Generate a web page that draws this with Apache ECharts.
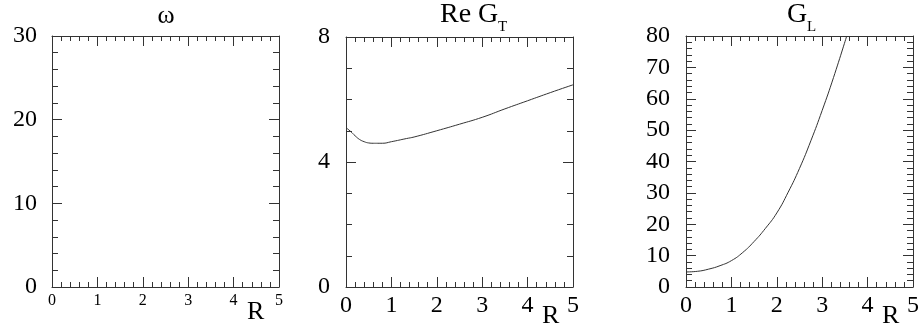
<!DOCTYPE html>
<html>
<head>
<meta charset="utf-8">
<script src="https://cdn.jsdelivr.net/npm/echarts@6/dist/echarts.min.js"></script>
<style>
  html, body { margin: 0; padding: 0; background: #fff; }
  #chart { width: 923px; height: 328px; }
</style>
</head>
<body>
<div id="chart"></div>
<script>
// Shared R axis ticks
const rTicks = [0, 1, 2, 3, 4, 5];

// omega panel: frame only, no curve
const omegaR = [];
const omegaVal = [];
const omegaYTicks = [0, 10, 20, 30];

// Re G_T versus R
const gtR   = [0, 0.1, 0.2, 0.3, 0.4, 0.5, 0.6, 0.7, 0.8, 1.0, 1.33, 1.5, 2.0, 2.5, 3.0, 3.5, 4.0, 4.5, 5.0];
const gtVal = [5.10, 4.98, 4.84, 4.72, 4.65, 4.61, 4.60, 4.60, 4.60, 4.65, 4.75, 4.80, 5.00, 5.21, 5.43, 5.70, 5.96, 6.22, 6.47];
const gtYTicks = [0, 4, 8];

// G_L versus R
const glR   = [0, 0.25, 0.5, 0.75, 1.0, 1.25, 1.5, 1.75, 2.0, 2.25, 2.5, 2.75, 3.0, 3.25, 3.54];
const glVal = [4.8, 5.0, 5.7, 6.8, 8.4, 11.0, 14.5, 18.7, 23.6, 30.2, 37.8, 46.6, 56.3, 66.8, 80.0];
const glYTicks = [0, 10, 20, 30, 40, 50, 60, 70, 80];

// Panel headings (main text + subscript) and the R axis caption
const headMain = ['ω', 'Re G', 'G'];
const headSub  = ['', 'T', 'L'];
const axisCaption = 'R';

const FONT = 'Liberation Serif';
const LINE = '#333';

const panels = [
  { left: 52, top: 36, h: 251, yTicks: omegaYTicks, yMinor: 5, ySize: 24, yMargin: 15,
    xSize: 16, xMargin: 6, xs: omegaR, ys: omegaVal,
    head: { x: 166, align: 'center', top: 3, size: 26 }, subPos: null, cap: { x: 247, top: 299 } },
  { left: 346, top: 37, h: 250, yTicks: gtYTicks, yMinor: 4, ySize: 24, yMargin: 16,
    xSize: 24, xMargin: 7, xs: gtR, ys: gtVal,
    head: { x: 440, align: 'left', top: 1, size: 28 }, subPos: { x: 498, top: 20 }, cap: { x: 542, top: 303 } },
  { left: 686, top: 36, h: 251, yTicks: glYTicks, yMinor: 5, ySize: 24, yMargin: 16,
    xSize: 24, xMargin: 7, xs: glR, ys: glVal,
    head: { x: 787, align: 'left', top: 1, size: 28 }, subPos: { x: 807, top: 20 }, cap: { x: 882, top: 303 } }
];

const grid = [], xAxis = [], yAxis = [], series = [], title = [];

// frame line plus inward major/minor ticks
function frame(minorSplit, minorLen) {
  return {
    axisLine: { show: true, onZero: false, lineStyle: { color: LINE } },
    axisTick: { show: true, inside: true, length: 10 },
    minorTick: { show: true, splitNumber: minorSplit, length: minorLen, lineStyle: { color: LINE } }
  };
}

function textBlock(text, left, top, size, align) {
  return {
    text, left, top, textAlign: align, padding: 0,
    textStyle: { fontFamily: FONT, fontSize: size, fontWeight: 'normal', color: '#000' }
  };
}

panels.forEach((p, i) => {
  grid.push({ left: p.left, top: p.top, width: 227, height: p.h });

  const yMin = p.yTicks[0];
  const yMax = p.yTicks[p.yTicks.length - 1];
  const yInt = p.yTicks[1] - p.yTicks[0];
  const rMin = rTicks[0];
  const rMax = rTicks[rTicks.length - 1];
  const rInt = rTicks[1] - rTicks[0];

  // bottom R axis with tick labels
  xAxis.push(Object.assign({
    type: 'value', gridIndex: i, min: rMin, max: rMax, interval: rInt, position: 'bottom',
    splitLine: { show: false },
    axisLabel: { show: true, margin: p.xMargin, fontFamily: FONT, fontSize: p.xSize, color: '#000' }
  }, frame(5, 5)));
  // top edge of the frame
  xAxis.push(Object.assign({
    type: 'value', gridIndex: i, min: rMin, max: rMax, interval: rInt, position: 'top',
    splitLine: { show: false }, axisLabel: { show: false }
  }, frame(5, 5)));

  yAxis.push(Object.assign({
    type: 'value', gridIndex: i, min: yMin, max: yMax, interval: yInt, position: 'left',
    splitLine: { show: false },
    axisLabel: { show: true, margin: p.yMargin, fontFamily: FONT, fontSize: p.ySize, color: '#000' }
  }, frame(p.yMinor, 6)));
  yAxis.push(Object.assign({
    type: 'value', gridIndex: i, min: yMin, max: yMax, interval: yInt, position: 'right',
    splitLine: { show: false }, axisLabel: { show: false }
  }, frame(p.yMinor, 6)));

  series.push({
    type: 'line', xAxisIndex: i * 2, yAxisIndex: i * 2,
    data: p.xs.map((x, k) => [x, p.ys[k]]),
    showSymbol: false, smooth: 0.5,
    lineStyle: { color: '#333', width: 1 }
  });

  // heading, its subscript, and the R caption between the last two tick labels
  title.push(textBlock(headMain[i], p.head.x, p.head.top, p.head.size, p.head.align));
  if (headSub[i] && p.subPos) {
    title.push(textBlock(headSub[i], p.subPos.x, p.subPos.top, 15, 'left'));
  }
  title.push(textBlock(axisCaption, p.cap.x, p.cap.top, 26, 'left'));
});

const chart = echarts.init(document.getElementById('chart'));
chart.setOption({
  animation: false,
  title, grid, xAxis, yAxis, series
});
</script>
</body>
</html>
